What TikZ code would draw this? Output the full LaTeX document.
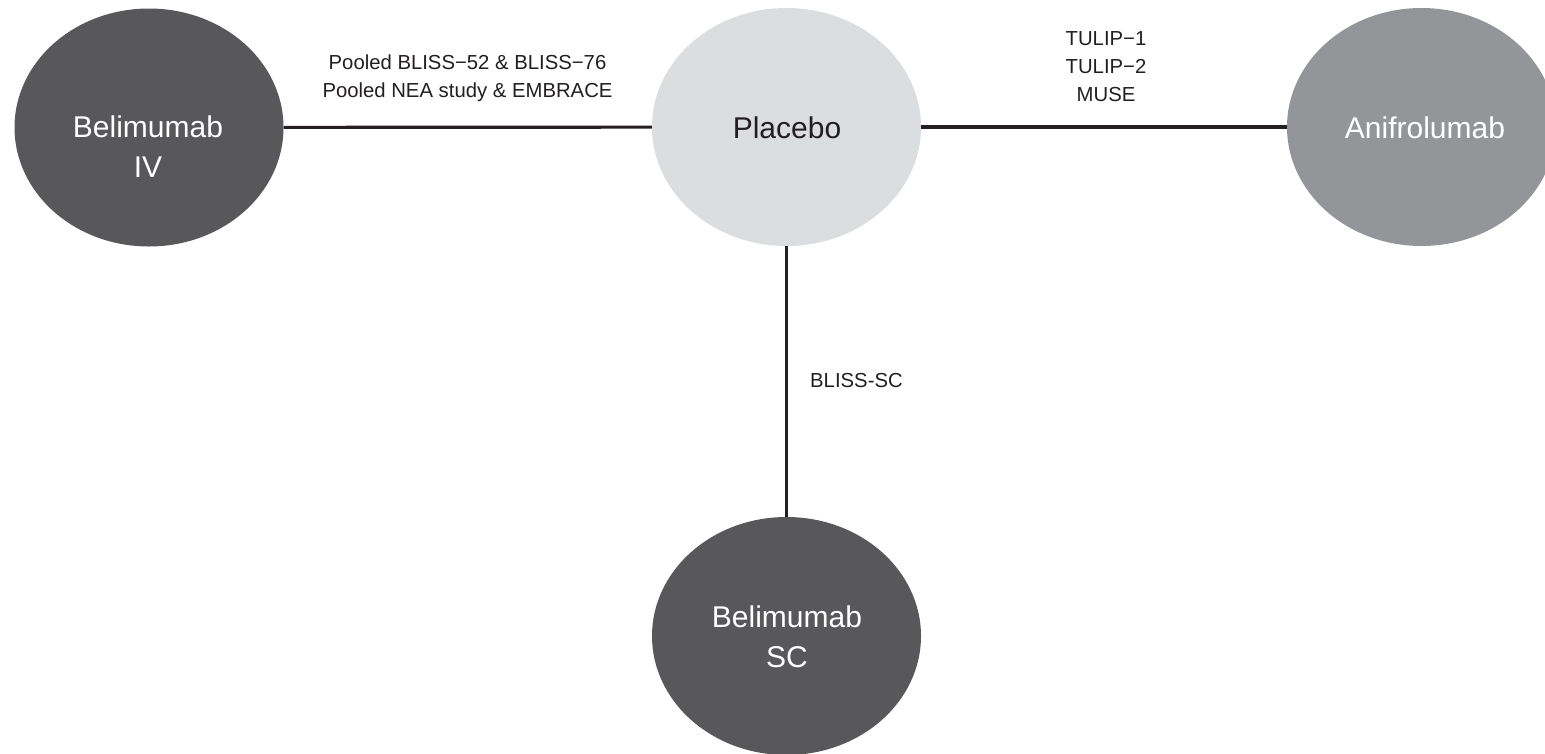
\documentclass[tikz,border=0pt]{standalone}
\usepackage{fontspec}
\setmainfont{Liberation Sans}
\usetikzlibrary{shapes.geometric}
\definecolor{darkfill}{HTML}{58585A}
\definecolor{midfill}{HTML}{939598}
\definecolor{lightfill}{HTML}{DCDDDE}
\definecolor{ink}{HTML}{231F20}
\tikzset{
  trt/.style={ellipse, inner sep=0pt, minimum width=269pt, minimum height=238pt, draw=none},
  nodetext/.style={font=\fontsize{30}{40}\selectfont, align=center, inner sep=0pt},
  edgelabel/.style={font=\fontsize{20.3}{28}\selectfont, align=center, text=ink, inner sep=0pt},
  edge/.style={draw=ink, line width=3.2pt}
}
\begin{document}
\begin{tikzpicture}[x=1pt,y=-1pt]
\useasboundingbox (0,0) rectangle (1545,753);
\clip (0,0) rectangle (1545,753);
\fill[white] (0,0) rectangle (1545,753);
\node[trt, fill=darkfill] (bivi) at (149,127.5) {};
\node[trt, fill=lightfill] (plac) at (786.5,127) {};
\node[trt, fill=midfill] (anif) at (1421.5,127) {};
\node[trt, fill=darkfill] (bsc) at (786.5,636) {};
\draw[edge] (bivi) -- (plac);
\draw[edge] (plac) -- (anif);
\draw[edge] (plac) -- (bsc);
\node[nodetext, text=white] (tbivi) at (148,147) {Belimumab\\IV};
\node[nodetext, text=ink] (tplac) at (787,128) {Placebo};
\node[nodetext, text=white] (tanif) at (1425,128) {Anifrolumab};
\node[nodetext, text=white] (tbsc) at (787,637) {Belimumab\\SC};
\node[edgelabel] (l1) at (467.5,78.5) {Pooled BLISS−52 \& BLISS−76\\Pooled NEA study \& EMBRACE};
\node[edgelabel] (l2) at (1106,67) {TULIP−1\\TULIP−2\\MUSE};
\node[edgelabel, anchor=west] (l3) at (810,380.5) {BLISS-SC};
\end{tikzpicture}
\end{document}
